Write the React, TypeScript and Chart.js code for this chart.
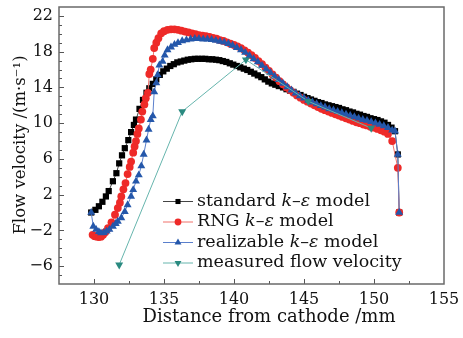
import React, { useEffect, useRef } from 'react';
import { Chart, registerables } from 'chart.js';

Chart.register(...registerables);

// ---------- data ----------
const standardX = [129.8,130.1,130.35,130.6,130.85,131.05,131.35,131.6,131.8,132.0,132.2,132.45,132.65,132.85,133.0,133.25,133.5,133.75,133.95,134.2,134.45,134.7,134.95,135.2,135.45,135.7,135.95,136.2,136.45,136.7,136.95,137.2,137.45,137.7,137.95,138.2,138.45,138.7,138.95,139.2,139.45,139.7,139.95,140.2,140.45,140.7,140.95,141.2,141.45,141.7,141.95,142.2,142.45,142.7,142.95,143.2,143.5,143.75,144.0,144.25,144.5,144.75,145.0,145.25,145.5,145.75,146.0,146.25,146.5,146.75,147.0,147.25,147.5,147.75,148.0,148.25,148.5,148.75,149.0,149.25,149.5,149.75,150.0,150.25,150.5,150.75,151.0,151.25,151.5,151.7,151.8];
const standardY = [0.0,0.3,0.7,1.2,1.8,2.4,3.5,4.4,5.5,6.4,7.2,8.1,9.0,9.8,10.4,11.6,12.6,13.4,13.9,14.4,14.9,15.4,15.8,16.1,16.4,16.6,16.8,16.9,17.0,17.1,17.15,17.2,17.2,17.2,17.2,17.15,17.15,17.1,17.05,16.95,16.85,16.7,16.55,16.4,16.25,16.1,15.95,15.75,15.55,15.35,15.15,14.9,14.65,14.45,14.3,14.15,14.0,13.8,13.65,13.5,13.3,13.15,12.95,12.8,12.65,12.5,12.35,12.25,12.1,12.0,11.9,11.8,11.7,11.55,11.45,11.3,11.2,11.05,10.95,10.8,10.7,10.55,10.45,10.35,10.2,10.05,9.8,9.5,9.1,6.5,0.0];

const rngX = [129.9,130.05,130.2,130.35,130.5,130.65,130.8,131.0,131.25,131.5,131.7,131.85,131.95,132.1,132.25,132.4,132.55,132.65,132.8,132.9,133.0,133.1,133.2,133.35,133.45,133.6,133.7,133.85,133.95,134.05,134.2,134.3,134.45,134.6,134.8,135.0,135.25,135.5,135.75,136.0,136.25,136.5,136.75,137.0,137.25,137.5,137.75,138.0,138.25,138.5,138.75,139.0,139.25,139.5,139.75,140.0,140.25,140.5,140.75,141.0,141.25,141.5,141.75,142.0,142.25,142.5,142.75,143.0,143.25,143.5,143.75,144.0,144.25,144.5,144.75,145.0,145.25,145.5,145.75,146.0,146.25,146.5,146.75,147.0,147.25,147.5,147.75,148.0,148.25,148.5,148.75,149.0,149.25,149.5,149.75,150.0,150.25,150.5,150.75,151.0,151.3,151.7,151.8];
const rngY = [-2.5,-2.65,-2.7,-2.75,-2.7,-2.5,-2.2,-1.75,-1.1,-0.25,0.5,1.1,1.8,2.6,3.3,4.3,5.1,5.7,6.7,7.4,8.0,8.8,9.4,10.4,11.3,12.1,12.8,13.4,15.5,16.0,17.2,18.4,19.0,19.5,20.05,20.3,20.45,20.5,20.5,20.45,20.35,20.25,20.15,20.05,19.95,19.85,19.8,19.75,19.65,19.55,19.45,19.3,19.2,19.05,18.9,18.75,18.6,18.4,18.15,17.9,17.6,17.3,16.95,16.6,16.2,15.85,15.45,15.1,14.7,14.35,14.0,13.7,13.4,13.1,12.85,12.6,12.4,12.2,12.0,11.8,11.6,11.45,11.3,11.15,11.0,10.85,10.7,10.55,10.4,10.25,10.1,10.0,9.85,9.75,9.6,9.5,9.35,9.2,9.05,8.8,8.0,5.0,0.0];

const realizableX = [129.8,129.95,130.15,130.35,130.5,130.7,130.9,131.1,131.35,131.55,131.7,131.95,132.2,132.4,132.65,132.8,133.0,133.2,133.38,133.55,133.75,133.9,134.05,134.2,134.3,134.45,134.55,134.67,134.9,135.05,135.25,135.5,135.75,136.0,136.3,136.6,136.9,137.2,137.5,137.8,138.1,138.4,138.7,139.0,139.3,139.6,139.9,140.2,140.5,140.8,141.1,141.4,141.7,142.0,142.3,142.6,142.9,143.2,143.5,143.8,144.1,144.4,144.7,145.0,145.3,145.6,145.9,146.2,146.5,146.8,147.1,147.4,147.7,148.0,148.3,148.6,148.9,149.2,149.5,149.8,150.1,150.4,150.7,151.0,151.3,151.5,151.7,151.8];
const realizableY = [0.0,-1.55,-1.9,-2.15,-2.3,-2.25,-2.1,-1.9,-1.55,-1.25,-1.0,-0.6,0.1,0.85,1.8,2.55,3.5,4.2,5.2,6.5,8.1,9.3,10.4,10.8,13.5,14.5,15.4,16.5,16.9,17.6,18.2,18.5,18.8,19.0,19.2,19.3,19.4,19.45,19.45,19.4,19.4,19.35,19.25,19.15,19.05,18.9,18.7,18.45,18.2,17.9,17.55,17.2,16.85,16.45,16.05,15.65,15.25,14.85,14.45,14.05,13.7,13.35,13.05,12.8,12.55,12.35,12.15,11.95,11.8,11.6,11.45,11.3,11.15,11.0,10.85,10.7,10.55,10.4,10.3,10.15,10.0,9.85,9.7,9.5,9.2,9.1,6.5,0.0];

const measuredX = [131.8,136.3,140.85,145.3,149.8];
const measuredY = [-5.85,11.3,17.1,12.45,9.45];

const xTickValues = [130,135,140,145,150,155];
const yTickValues = [-6,-2,2,6,10,14,18,22];

const seriesLabels = [
  [['standard ', false], ['k', true], ['\u2013', false], ['\u03b5', true], [' model', false]],
  [['RNG ', false], ['k', true], ['\u2013', false], ['\u03b5', true], [' model', false]],
  [['realizable ', false], ['k', true], ['\u2013', false], ['\u03b5', true], [' model', false]],
  [['measured flow velocity', false]],
];
const xTitle = 'Distance from cathode /mm';
const yTitle = 'Flow velocity /(m\u00b7s\u207b\u00b9)';

// ---------- styles ----------
const FONT = '"DejaVu Serif", "Liberation Serif", serif';
const TEXT = '#111111';
const styles = [
  { line: '#444444', fill: '#000000', shape: 'rect', r: 4.4, rot: 0 },
  { line: '#f0706a', fill: '#ee2a28', shape: 'circle', r: 3.9, rot: 0 },
  { line: '#5a7fcc', fill: '#2457aa', shape: 'triangle', r: 4.6, rot: 0 },
  { line: '#66b5ad', fill: '#2a8a80', shape: 'triangle', r: 4.6, rot: 180 },
];

const toPts = (xs: number[], ys: number[]) => xs.map((x, i) => ({ x, y: ys[i] }));

function drawMarker(ctx: CanvasRenderingContext2D, shape: string, r: number, rot: number, x: number, y: number, color: string) {
  ctx.fillStyle = color;
  ctx.beginPath();
  if (shape === 'rect') {
    const s = r * Math.SQRT1_2;
    ctx.rect(x - s, y - s, 2 * s, 2 * s);
  } else if (shape === 'circle') {
    ctx.arc(x, y, r, 0, Math.PI * 2);
  } else {
    let a = (rot * Math.PI) / 180;
    for (let k = 0; k < 3; k++) {
      const px = x + Math.sin(a) * r;
      const py = y - Math.cos(a) * r;
      if (k === 0) ctx.moveTo(px, py); else ctx.lineTo(px, py);
      a += (2 * Math.PI) / 3;
    }
    ctx.closePath();
  }
  ctx.fill();
}

const decorPlugin = {
  id: 'decor',
  afterDraw(chart: any) {
    const ctx: CanvasRenderingContext2D = chart.ctx;
    const { left, right, top, bottom } = chart.chartArea;
    const xs = chart.scales.x;
    const ys = chart.scales.y;
    ctx.save();
    // inward ticks
    ctx.strokeStyle = '#555555';
    ctx.lineWidth = 1;
    ctx.beginPath();
    for (let v = 130; v <= 152.5; v += 2.5) {
      const px = Math.round(xs.getPixelForValue(v)) + 0.5;
      const len = v % 5 === 0 ? 5 : 3;
      ctx.moveTo(px, bottom);
      ctx.lineTo(px, bottom - len);
    }
    for (let v = -7; v <= 22; v += 1) {
      const py = Math.round(ys.getPixelForValue(v)) + 0.5;
      const len = (v + 6) % 4 === 0 ? 5 : 3;
      ctx.moveTo(left, py);
      ctx.lineTo(left + len, py);
    }
    ctx.stroke();
    // frame
    ctx.strokeStyle = '#6a6a6a';
    ctx.lineWidth = 1.5;
    ctx.strokeRect(left, top, right - left, bottom - top);

    // axis titles
    ctx.fillStyle = TEXT;
    ctx.textAlign = 'center';
    ctx.textBaseline = 'middle';
    ctx.font = `18px ${FONT}`;
    ctx.fillText(xTitle, 269, 317);
    ctx.save();
    ctx.translate(21, 145);
    ctx.rotate(-Math.PI / 2);
    ctx.font = `16.5px ${FONT}`;
    ctx.fillText(yTitle, 0, 0);
    ctx.restore();

    // legend
    const rowY = [201, 221.5, 242, 262.5];
    ctx.textAlign = 'left';
    ctx.textBaseline = 'middle';
    seriesLabels.forEach((segs, i) => {
      const st = styles[i];
      const y = rowY[i];
      ctx.strokeStyle = st.line;
      ctx.lineWidth = 1;
      ctx.beginPath();
      ctx.moveTo(163, y + 0.5);
      ctx.lineTo(193, y + 0.5);
      ctx.stroke();
      drawMarker(ctx, st.shape, st.shape === 'rect' ? 3.6 : st.shape === 'circle' ? 3.4 : 4.0, st.rot, 178, y + 0.5, st.fill);
      let x = 197;
      ctx.fillStyle = TEXT;
      (segs as any[]).forEach(([t, it]) => {
        ctx.font = `${it ? 'italic ' : ''}17.5px ${FONT}`;
        ctx.fillText(t, x, y);
        x += ctx.measureText(t).width;
      });
    });
    ctx.restore();
  },
};

const tickFmt = (v: any) => (v < 0 ? '\u2212' + Math.abs(v) : String(v));

export default function App() {
  const ref = useRef<HTMLCanvasElement>(null);
  useEffect(() => {
    if (!ref.current) return;
    const datasets = [
      { d: toPts(standardX, standardY), order: 4 },
      { d: toPts(rngX, rngY), order: 3 },
      { d: toPts(realizableX, realizableY), order: 2 },
      { d: toPts(measuredX, measuredY), order: 1 },
    ].map((o, i) => ({
      data: o.d,
      order: o.order,
      showLine: true,
      borderColor: styles[i].line,
      borderWidth: 1,
      backgroundColor: styles[i].fill,
      pointBackgroundColor: styles[i].fill,
      pointBorderColor: styles[i].fill,
      pointBorderWidth: 0,
      pointStyle: styles[i].shape as any,
      pointRadius: styles[i].r,
      pointRotation: styles[i].rot,
      tension: 0,
    }));
    const chart = new Chart(ref.current, {
      type: 'scatter',
      data: { datasets },
      options: {
        responsive: false,
        animation: false,
        devicePixelRatio: 1,
        layout: { padding: { top: 7, right: 19, left: 0, bottom: 0 } },
        plugins: { legend: { display: false }, tooltip: { enabled: false } },
        scales: {
          x: {
            type: 'linear',
            min: 127.5,
            max: 155,
            grid: { display: false, drawTicks: false },
            border: { display: false },
            ticks: { font: { family: FONT, size: 16 }, color: TEXT, padding: 6, maxRotation: 0, autoSkip: false, callback: tickFmt },
            afterBuildTicks: (s: any) => { s.ticks = xTickValues.map((v) => ({ value: v })); },
            afterFit: (s: any) => { s.height = 54; s.paddingLeft = 0; s.paddingRight = 0; },
          },
          y: {
            type: 'linear',
            min: -8,
            max: 23,
            grid: { display: false, drawTicks: false },
            border: { display: false },
            ticks: { font: { family: FONT, size: 16 }, color: TEXT, padding: 6, autoSkip: false, callback: tickFmt },
            afterBuildTicks: (s: any) => { s.ticks = yTickValues.map((v) => ({ value: v })); },
            afterFit: (s: any) => { s.width = 59; s.paddingTop = 0; s.paddingBottom = 0; },
          },
        },
      },
      plugins: [decorPlugin],
    });
    return () => chart.destroy();
  }, []);
  return (
    <div style={{ position: 'fixed', left: 0, top: 0, width: 463, height: 338, background: '#fff' }}>
      <canvas ref={ref} width={463} height={338} style={{ display: 'block' }} />
    </div>
  );
}
